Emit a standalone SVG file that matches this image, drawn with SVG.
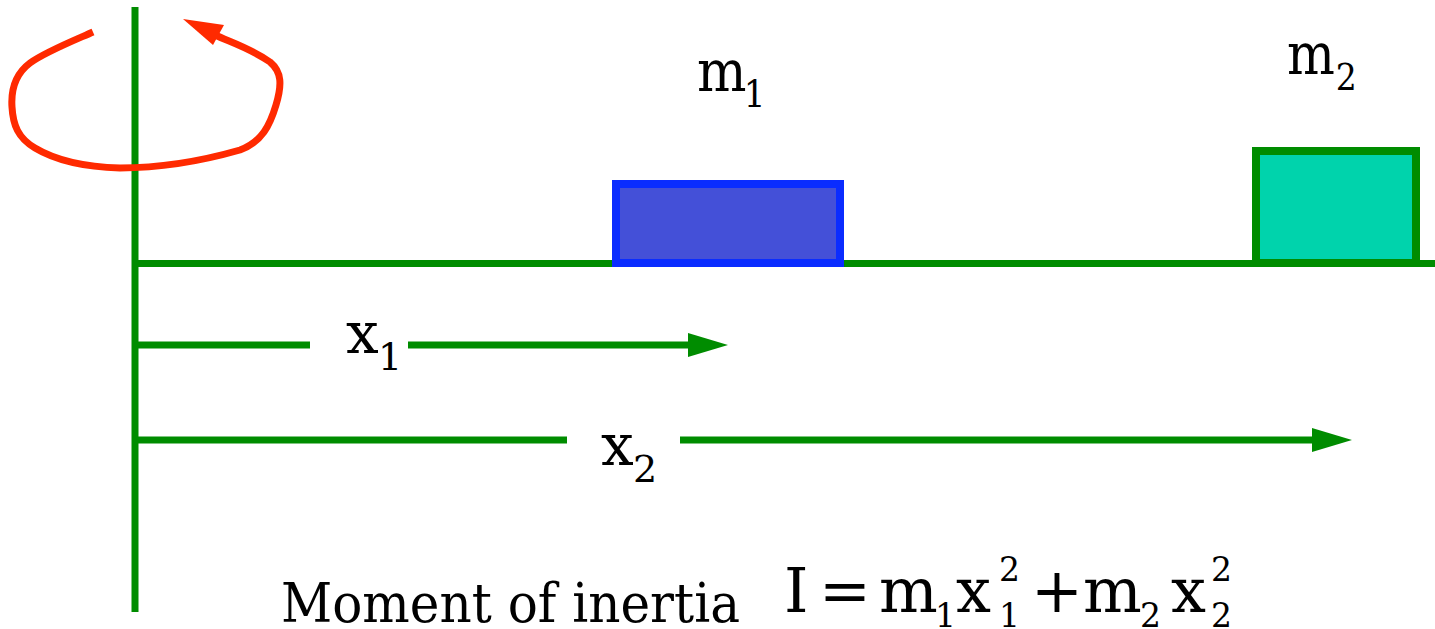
<svg xmlns="http://www.w3.org/2000/svg" width="1435" height="629" viewBox="0 0 1435 629">
<style>
.g{stroke:#008C00;stroke-width:7;fill:none}
.t{font-family:'DejaVu Serif',serif;fill:#000}
.lab{font-size:58px}
.sub{font-size:38px}
.f{font-size:62px}
.fs{font-size:33px}
</style>
<defs>
<marker id="ah" markerUnits="userSpaceOnUse" markerWidth="41" markerHeight="24" refX="2" refY="12" orient="auto">
<path d="M0,0 L40,12 L0,24 Z" fill="#008C00"/>
</marker>
</defs>
<rect width="1435" height="629" fill="#fff"/>
<g id="axis">
<line class="g" x1="135" y1="7" x2="135" y2="612"/>
</g>
<g id="beam">
<line class="g" x1="135" y1="263.5" x2="1435" y2="263.5"/>
</g>
<g id="rotation">
<path d="M93,32 C75,40 45,52 30,63 C14,75 11,92 12,107 C13,125 18,138 35,148 C55,160 85,167 120,168 C160,168 205,160 240,150 C262,142 270,125 276,105 C282,85 282,72 270,62 C250,48 230,42 215,35" fill="none" stroke="#FF2A00" stroke-width="7"/>
<polygon points="183,19 224,25 213,45" fill="#FF2A00"/>
</g>
<g id="mass1">
<rect x="616" y="184" width="224" height="79" fill="#4450D8" stroke="#0A2CFF" stroke-width="8"/>
<text class="t lab" transform="translate(697,91) scale(0.9,1)" x="0" y="0">m<tspan class="sub" x="52" y="16">1</tspan></text>
</g>
<g id="mass2">
<rect x="1256" y="151" width="160" height="112" fill="#00D3AC" stroke="#008C00" stroke-width="8"/>
<text class="t lab" transform="translate(1287,74) scale(0.87,1)" x="0" y="0">m<tspan class="sub" x="56" y="16">2</tspan></text>
</g>
<g id="connectors">
<line class="g" x1="135" y1="345" x2="310" y2="345"/>
<line class="g" x1="408" y1="345" x2="690" y2="345" marker-end="url(#ah)"/>
<line class="g" x1="135" y1="440" x2="567" y2="440"/>
<line class="g" x1="680" y1="440" x2="1314" y2="440" marker-end="url(#ah)"/>
</g>
<g id="labels">
<text class="t lab" x="346" y="353">x<tspan class="sub" x="378" y="370">1</tspan></text>
<text class="t lab" x="601" y="465">x<tspan class="sub" x="633" y="482">2</tspan></text>
<text class="t" font-size="55" x="281" y="622" textLength="459" lengthAdjust="spacingAndGlyphs">Moment of inertia</text>
<text class="t f" x="784" y="612">I<tspan x="819">=</tspan><tspan x="879">m</tspan><tspan class="fs" x="935" y="627">1</tspan><tspan x="956" y="612">x</tspan><tspan class="fs" x="999" y="581">2</tspan><tspan class="fs" x="999" y="627">1</tspan><tspan x="1031" y="612">+</tspan><tspan x="1083">m</tspan><tspan class="fs" x="1140" y="627">2</tspan><tspan x="1171" y="612">x</tspan><tspan class="fs" x="1211" y="581">2</tspan><tspan class="fs" x="1211" y="627">2</tspan></text>
</g>
</svg>
